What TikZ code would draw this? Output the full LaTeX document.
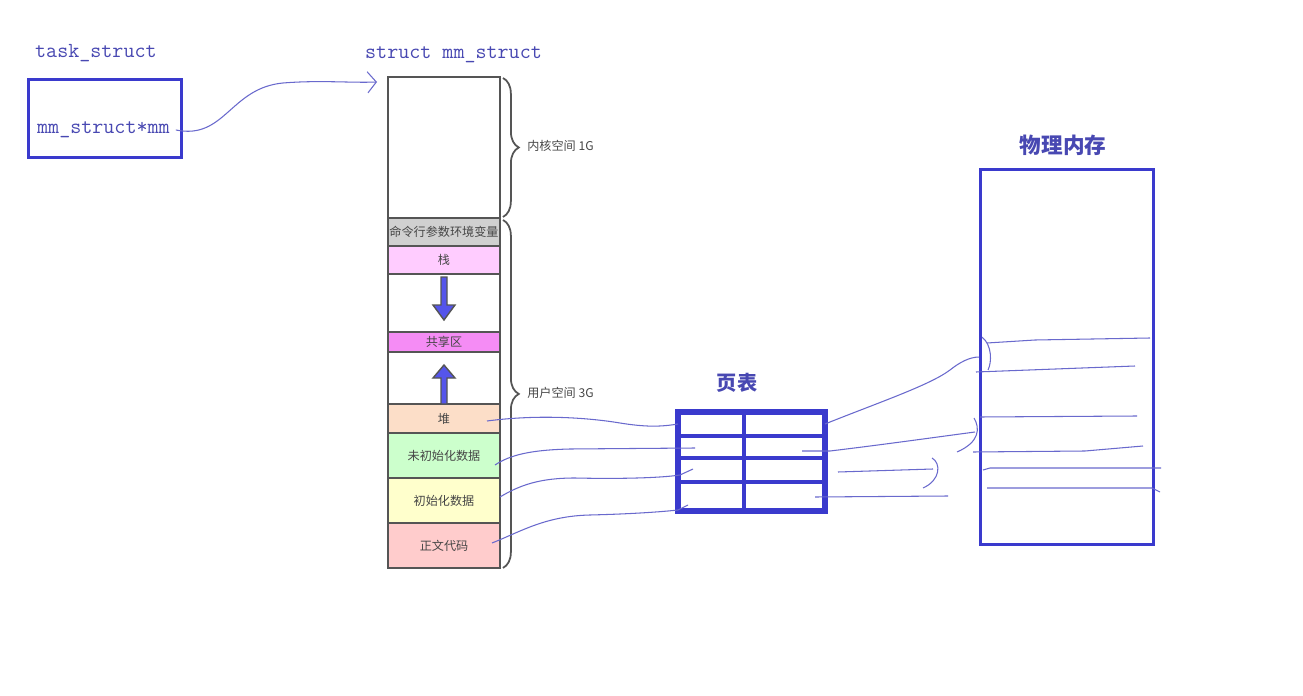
\documentclass[tikz,border=0pt]{standalone}
\usepackage{fontspec}
\newfontfamily\cjk{Noto Sans CJK SC}
\usetikzlibrary{positioning,arrows.meta,decorations.pathreplacing}
\definecolor{penblue}{RGB}{58,58,205}
\definecolor{inkblue}{RGB}{72,72,178}
\definecolor{scribble}{RGB}{105,105,205}
\definecolor{segline}{RGB}{85,85,85}
\definecolor{segtext}{RGB}{70,70,70}
\definecolor{envgray}{RGB}{208,208,208}
\definecolor{stackpink}{RGB}{255,204,255}
\definecolor{sharedpink}{RGB}{245,140,245}
\definecolor{heappeach}{RGB}{252,222,200}
\definecolor{bssgreen}{RGB}{204,255,204}
\definecolor{datayellow}{RGB}{255,255,204}
\definecolor{codered}{RGB}{255,204,204}
\definecolor{growfill}{RGB}{85,85,235}
\tikzset{
  title/.style={font=\ttfamily\fontsize{12.2}{14}\selectfont, text=inkblue},
  cntitle/.style={font=\cjk\bfseries\fontsize{11.5}{13}\selectfont, text=inkblue},
  seg/.style={draw=segline, line width=1.1pt, minimum width=2.24cm, inner sep=0pt,
    outer sep=0pt, font=\cjk\fontsize{6.9}{8}\selectfont, text=segtext},
  bracelbl/.style={font=\cjk\fontsize{6.9}{8}\selectfont, text=segtext, inner sep=0pt},
  memside/.style={draw=segline, line width=1pt, decorate,
    decoration={brace, amplitude=9pt}},
  growarrow/.style={fill=growfill, draw=segline, line width=0.8pt},
  cell/.style={draw=penblue, line width=2.1pt, inner sep=0pt, outer sep=0pt},
  bluebox/.style={draw=penblue, line width=1.8pt, inner sep=0pt},
  scrib/.style={draw=scribble, line width=0.6pt}
}

\begin{document}
\begin{tikzpicture}[x=0.02cm, y=-0.02cm]
\fill[white] (0,0) rectangle (1303,696);
\useasboundingbox (0,0) rectangle (1303,696);

% task_struct
\node (tasklbl) [title, anchor=west] at (29,53) {task\_struct};
\node (taskbox) [bluebox, minimum width=3.06cm, minimum height=1.56cm, anchor=north west] at (27,78) {};
\node (mmptr) [title, anchor=west] at (31,130) {mm\_struct*mm};

% mm_struct
\node (mmlbl) [title, anchor=west] at (359,55) {struct mm\_struct};
\node (kern) [seg, minimum height=2.82cm, anchor=north] at (444,77) {};
\node (env) [seg, fill=envgray, minimum height=0.56cm, below=0pt of kern] {命令行参数环境变量};
\node (stack) [seg, fill=stackpink, minimum height=0.56cm, below=0pt of env] {栈};
\node (gapa) [seg, minimum height=1.16cm, below=0pt of stack] {};
\node (shared) [seg, fill=sharedpink, minimum height=0.40cm, below=0pt of gapa] {共享区};
\node (gapb) [seg, minimum height=1.04cm, below=0pt of shared] {};
\node (heap) [seg, fill=heappeach, minimum height=0.58cm, below=0pt of gapb] {堆};
\node (bss) [seg, fill=bssgreen, minimum height=0.90cm, below=0pt of heap] {未初始化数据};
\node (data) [seg, fill=datayellow, minimum height=0.90cm, below=0pt of bss] {初始化数据};
\node (code) [seg, fill=codered, minimum height=0.90cm, below=0pt of data] {正文代码};

% stack grows down, heap grows up
\draw[growarrow] (441,277) -- (447,277) -- (447,305) -- (455,305) -- (444,320)
  -- (433,305) -- (441,305) -- cycle;
\draw[growarrow] (441,404) -- (447,404) -- (447,378) -- (455,378) -- (444,365)
  -- (433,378) -- (441,378) -- cycle;

% braces
\draw[memside] ([xshift=0.06cm,yshift=-0.02cm]kern.north east) -- ([xshift=0.06cm,yshift=0.02cm]kern.south east);
\draw[memside] ([xshift=0.06cm,yshift=-0.04cm]env.north east) -- ([xshift=0.06cm]code.south east);
\node (kernlbl) [bracelbl, anchor=west] at (527,146) {内核空间 1G};
\node (userlbl) [bracelbl, anchor=west] at (527,393) {用户空间 3G};

% page table
\node (ptlbl) [cntitle] at (737,383) {页表};
\node (pa1) [cell, minimum width=1.32cm, minimum height=0.48cm, anchor=north west] at (678,412) {};
\node (pa2) [cell, minimum width=1.32cm, minimum height=0.44cm, below=0pt of pa1] {};
\node (pa3) [cell, minimum width=1.32cm, minimum height=0.48cm, below=0pt of pa2] {};
\node (pa4) [cell, minimum width=1.32cm, minimum height=0.58cm, below=0pt of pa3] {};
\node (pb1) [cell, minimum width=1.62cm, minimum height=0.48cm, right=0pt of pa1] {};
\node (pb2) [cell, minimum width=1.62cm, minimum height=0.44cm, right=0pt of pa2] {};
\node (pb3) [cell, minimum width=1.62cm, minimum height=0.48cm, right=0pt of pa3] {};
\node (pb4) [cell, minimum width=1.62cm, minimum height=0.58cm, right=0pt of pa4] {};
\draw[penblue, line width=3.2pt] (pa1.north west) rectangle (pb4.south east);

% physical memory
\node (physlbl) [cntitle, font=\cjk\bfseries\fontsize{12.3}{14}\selectfont] at (1063,145) {物理内存};
\node (phys) [bluebox, minimum width=3.46cm, minimum height=7.5cm, anchor=north west] at (979,168) {};

% hand-drawn links
\coordinate (mmhead) at (377,82);
\draw[scrib, -{Straight Barb[length=5pt,width=12pt]}] (mmptr.east)
  .. controls (225,140) and (230,88) .. (283,83)
  .. controls (320,80) and (350,83) .. (mmhead);

\coordinate (heapout) at (487,421);
\coordinate (bssout) at (495,465);
\coordinate (dataout) at (500,497);
\coordinate (codeout) at (492,543);
\coordinate (bssin) at (695,448);
\coordinate (datain) at (693,469);
\coordinate (codein) at (688,505);
\draw[scrib] (heapout) .. controls (540,414) and (590,418) .. (620,423)
  .. controls (645,427) and (660,427) .. (pa1.west);
\draw[scrib] (bssout) .. controls (510,455) and (530,450) .. (570,449) -- (bssin);
\draw[scrib] (dataout) .. controls (520,485) and (540,478) .. (575,478)
  .. controls (620,479) and (660,478) .. (680,475) -- (datain);
\draw[scrib] (codeout) .. controls (520,532) and (545,516) .. (590,515)
  .. controls (630,514) and (660,512) .. (678,510) -- (codein);

\coordinate (rowtwo) at (802,451);
\coordinate (rowthree) at (838,472);
\coordinate (rowfour) at (815,497);
\coordinate (physb) at (975,432);
\coordinate (physc) at (933,469);
\coordinate (physd) at (948,496);
\draw[scrib] (pb1.east) .. controls (880,402) and (930,385) .. (950,370)
  .. controls (960,362) and (970,357) .. (phys.west);
\draw[scrib] (rowtwo) -- (830,451) .. controls (880,445) and (930,438) .. (physb);
\draw[scrib] (rowthree) -- (physc);
\draw[scrib] (rowfour) -- (physd);
\draw[scrib] (974,418) .. controls (980,428) and (980,442) .. (957,452);
\draw[scrib] (932,458) .. controls (941,463) and (941,480) .. (923,488);

% frames in physical memory
\draw[scrib] (982,337) .. controls (992,345) and (992,362) .. (988,370);
\draw[scrib] (987,343) -- (1035,340) -- (1150,338);
\draw[scrib] (976,372) -- (1135,366);
\draw[scrib] (980,417) -- (1137,416);
\draw[scrib] (973,452) -- (1085,451) -- (1143,446);
\draw[scrib] (983,470) -- (990,468) -- (1161,468);
\draw[scrib] (987,488) -- (1152,488) -- (1160,492);
\end{tikzpicture}
\end{document}
